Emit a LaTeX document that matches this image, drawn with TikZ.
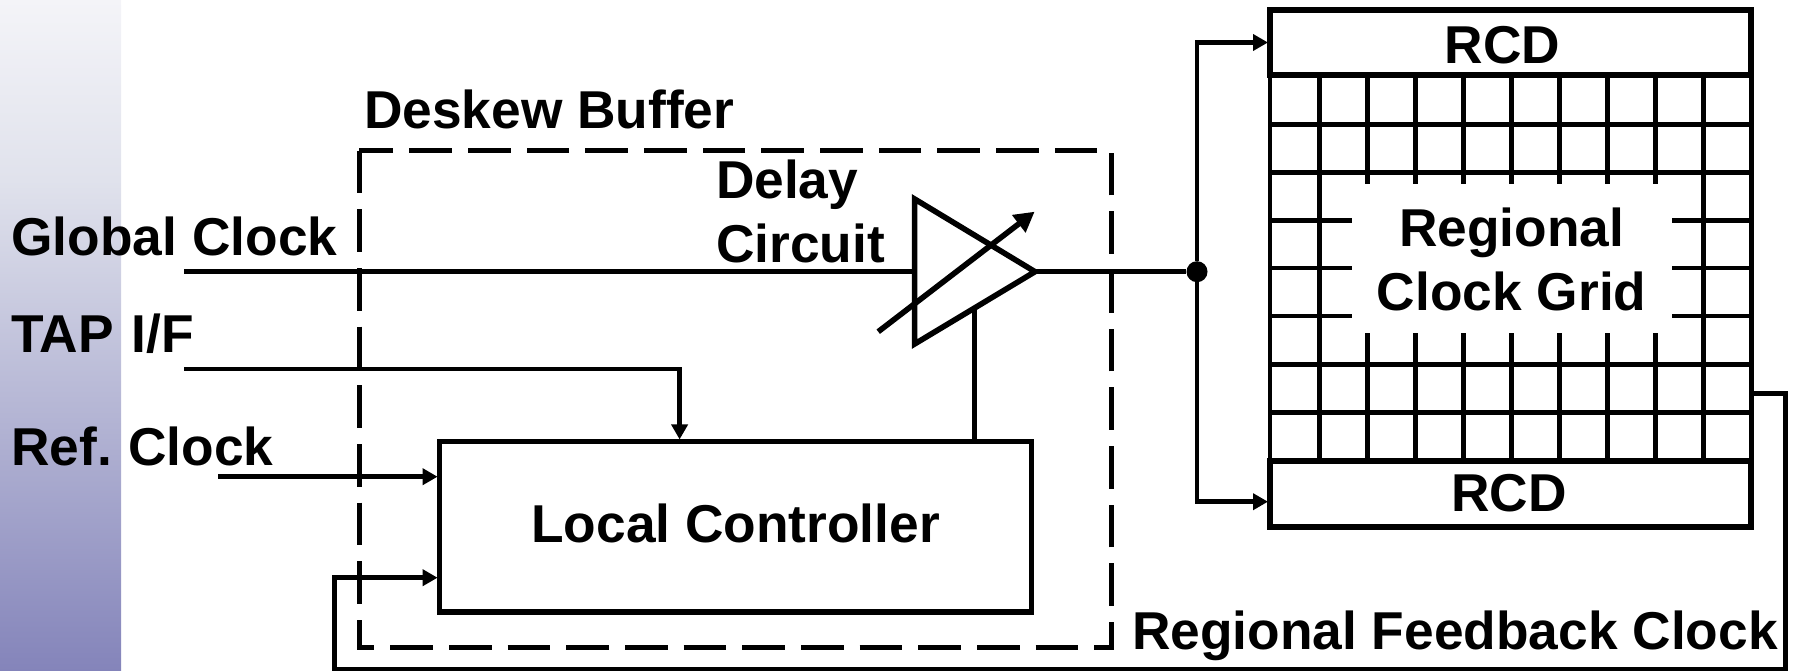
\documentclass[tikz,border=0pt]{standalone}
\usepackage{fontspec}
\setmainfont{Liberation Sans}
\usetikzlibrary{arrows.meta,calc}
\definecolor{bandtop}{HTML}{F4F4F8}
\definecolor{bandmid}{HTML}{E0E2EC}
\definecolor{bandbot}{HTML}{8484BA}
\pgfdeclareverticalshading{bandshade}{100bp}{color(0bp)=(bandbot); color(25bp)=(bandbot); color(61.6bp)=(bandmid); color(75bp)=(bandtop); color(100bp)=(bandtop)}
\tikzset{
  lbl/.style={inner sep=0pt,outer sep=0pt,font=\fontsize{53.3}{64}\selectfont\bfseries,text=black},
  wire/.style={line width=4.6pt,draw=black,line cap=butt,line join=miter},
  arrowwire/.style={wire,-{Triangle[length=15pt,width=16pt]},shorten >=2pt},
  gridline/.style={line width=4.8pt,draw=black},
  thickbox/.style={rectangle,draw=black,line width=5.4pt,inner sep=0pt,outer sep=0pt},
  amp/.style={line width=5.6pt,draw=black,line join=miter},
  dashbox/.style={line width=5pt,draw=black,dash pattern=on 42.67pt off 16pt},
}
\begin{document}
\begin{tikzpicture}[x=1pt,y=-1pt]
\useasboundingbox (0,0) rectangle (1795,671);
% background band
\shade[shading=bandshade] (0,0) rectangle (121,671);
% regional clock grid
\foreach \yy in {124.3,172.3,364.3,412.3} \draw[gridline] (1270,\yy) -- (1751,\yy);
\foreach \yy in {220.3,268,316} {
  \draw[gridline] (1270,\yy) -- (1351.5,\yy);
  \draw[gridline] (1672,\yy) -- (1751,\yy);
}
\foreach \xx in {1270,1319.6,1703.7,1751.2} \draw[gridline] (\xx,75) -- (\xx,460);
\foreach \xx in {1367.4,1415.6,1463.4,1511.5,1559.6,1607.4,1655.6} {
  \draw[gridline] (\xx,75) -- (\xx,184);
  \draw[gridline] (\xx,333) -- (\xx,460);
}
% RCD boxes
\node[thickbox,minimum width=481pt,minimum height=65pt] (rcdtop) at (1510.5,42.5) {};
\node[thickbox,minimum width=481pt,minimum height=66pt] (rcdbot) at (1510.5,494) {};
\node[lbl,anchor=base] (rcdtoptext) at (1502.6,63.3) {RCD};
\node[lbl,anchor=base] (rcdbottext) at (1509,511.7) {RCD};
\node[lbl,anchor=base,align=center] (gridtext) at (1511.7,310.7) {Regional\\Clock Grid};
% deskew buffer outline
\coordinate (dtl) at (359.3,150.7);
\coordinate (dbl) at (359.3,647.7);
\coordinate (dbr) at (1111.3,647.7);
\coordinate (dtr) at (1111.3,150.7);
\draw[dashbox] (dtl) -- (dbl) -- (dbr) -- (dtr) -- cycle;
% local controller
\node[thickbox,minimum width=592pt,minimum height=170.7pt,text depth=7pt,font=\fontsize{53.3}{64}\selectfont\bfseries] (lc) at (735.6,526.8) {Local Controller};
% delay circuit
\coordinate (ampt) at (914.6,199);
\coordinate (ampb) at (914.6,344);
\coordinate (ampo) at (1035,271.7);
\draw[amp] (ampt) -- (ampo) -- (ampb) -- cycle;
\coordinate (vs) at (878.2,331.7);
\coordinate (ve) at (1034.6,211.7);
\draw[amp,-{Triangle[length=20pt,width=21pt]}] (vs) -- (ve);
% junction
\node[circle,fill=black,inner sep=0pt,minimum size=21pt] (junc) at (1197,271.7) {};
% input labels
\node[lbl,anchor=base west] (glab) at (11.5,255.7) {Global Clock};
\node[lbl,anchor=base west] (tlab) at (11,352.7) {TAP\kern3pt{} I/F};
\node[lbl,anchor=base west] (rlab) at (11.5,465.7) {Ref.\kern-3.5pt{} Clock};
\node[lbl,anchor=base west] (dlab) at (364,128.3) {Deskew Buffer};
\node[lbl,anchor=base west,align=left] (clab) at (716,262.3) {Delay\\Circuit};
\node[lbl,anchor=base west] (flab) at (1132,649.3) {Regional Feedback Clock};
% connectors
\coordinate (gin) at (184,271.7);
\coordinate (ampi) at (914.6,271.7);
\draw[wire] (gin) -- (ampi);
\coordinate (tin) at (184,369);
\coordinate (ttop) at (679.6,369);
\draw[arrowwire] (tin) -- (ttop) -- (ttop |- lc.north);
\coordinate (rin) at (218,476.7);
\draw[arrowwire] (rin) -- (rin -| lc.west);
\coordinate (ctl) at (974.6,307.3);
\draw[wire] (ctl |- lc.north) -- (ctl);
\draw[wire] (ampo) -- (junc);
\draw[arrowwire] (junc) |- (rcdtop.west);
\coordinate (rbin) at (1270,501.7);
\draw[arrowwire] (junc) |- (rbin);
\coordinate (fb0) at (1751.2,393.3);
\coordinate (fb1) at (1785.5,393.3);
\coordinate (fb2) at (1785.5,669);
\coordinate (fb3) at (334.5,669);
\coordinate (fb4) at (334.5,577.7);
\draw[arrowwire] (fb0) -- (fb1) -- (fb2) -- (fb3) -- (fb4) -- (fb4 -| lc.west);
\end{tikzpicture}
\end{document}
